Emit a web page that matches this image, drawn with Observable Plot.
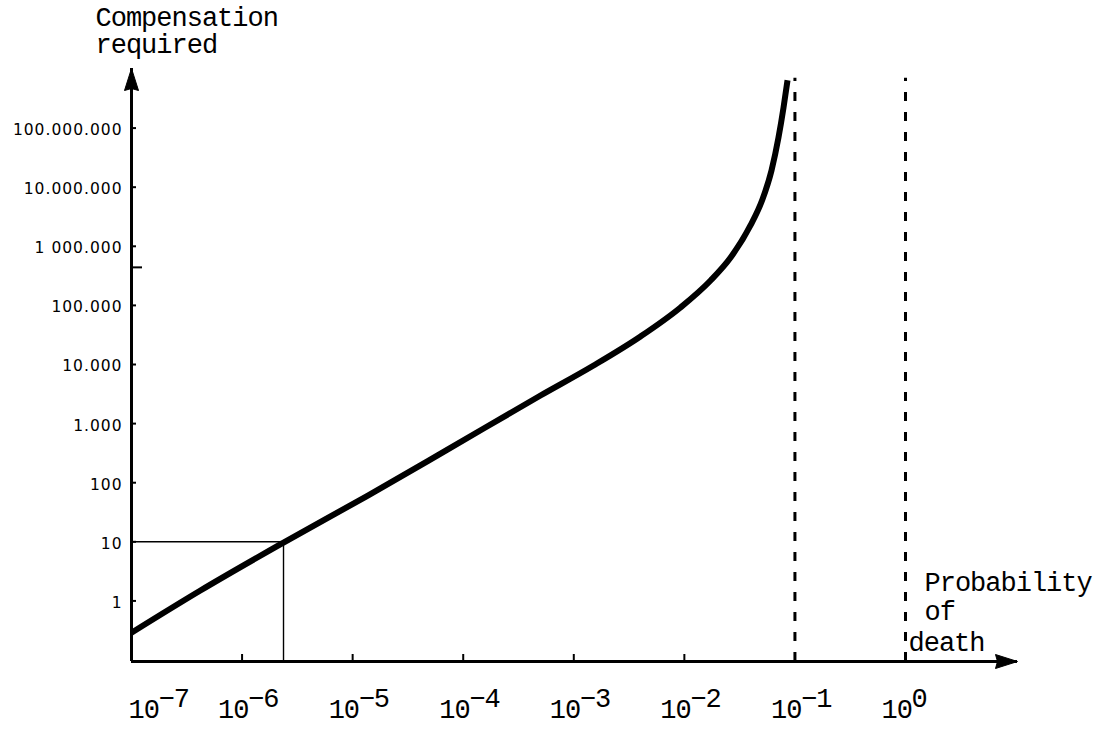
<!DOCTYPE html>
<html>
<head>
<meta charset="utf-8">
<script src="https://cdn.jsdelivr.net/npm/d3@7"></script>
<script src="https://cdn.jsdelivr.net/npm/@observablehq/plot@0.6"></script>
<style>
  html, body { margin: 0; padding: 0; background: #fff; }
  g[font-family*="Mono"] { letter-spacing: -1px; }
  g[font-family^="DejaVu Sans,"] { letter-spacing: 1px; }
</style>
</head>
<body>
<div id="chart"></div>
<script>
// ---- data ----
const xTickValues = [1e-7, 1e-6, 1e-5, 1e-4, 1e-3, 1e-2, 1e-1, 1];
const xTickBase = ["10", "10", "10", "10", "10", "10", "10", "10"];
const xTickExponents = ["−7", "−6", "−5", "−4", "−3", "−2", "−1", "0"];
const yTickValues = [1, 10, 100, 1e3, 1e4, 1e5, 1e6, 1e7, 1e8];
const yTickLabels = ["1", "10", "100", "1.000", "10.000", "100.000", "1 000.000", "10.000.000", "100.000.000"];
const extraYTick = [4.4e5];
// compensation curve
const probability = [1e-7, 4.2e-7, 2.37e-6, 1.36e-5, 7.2e-5, 5.0e-4, 1.51e-3, 4.01e-3, 9.23e-3, 0.01726, 0.0262, 0.0396, 0.0508, 0.0614, 0.0710, 0.0789, 0.0857];
const compensation = [0.29, 1.5, 9.7, 60, 363, 2990, 9620, 2.98e4, 9.23e4, 2.64e5, 6.46e5, 2.25e6, 6.19e6, 1.92e7, 6.92e7, 2.24e8, 6.46e8];
// reference guide (compensation 10)
const refProbability = [2.37e-6];
const refCompensation = [10];
// asymptotes (dashed)
const asymptotes = [0.1, 1];
const asymptoteTop = 7e8;

// scale extents
const xDomain = [1e-7, 10.3];
const yDomain = [0.0944, 1.019e9];

const curveData = probability.map((p, i) => ({p, c: compensation[i]}));
const xTicks = xTickValues.map((v, i) => ({v, base: xTickBase[i], exp: xTickExponents[i]}));
const yTicks = yTickValues.map((v, i) => ({v, label: yTickLabels[i]}));

const mono = "Liberation Mono, Courier New, monospace";
const sans = "DejaVu Sans, Verdana, sans-serif";

const arrowHead = {
  draw(ctx) {
    ctx.moveTo(0, 0);
    ctx.lineTo(7, 22);
    ctx.lineTo(0, 20);
    ctx.lineTo(-7, 22);
    ctx.closePath();
  }
};

const nubX = 1e-7 * Math.pow(10, 5 / 110.57);
const longNubX = 1e-7 * Math.pow(10, 11 / 110.57);
const nubY = yDomain[0] * Math.pow(10, 7 / 59.1);

const chart = Plot.plot({
  width: 1098,
  height: 729,
  marginLeft: 131,
  marginRight: 81,
  marginTop: 68,
  marginBottom: 68,
  style: {background: "#fff", color: "#000", overflow: "visible"},
  x: {type: "log", domain: xDomain, axis: null},
  y: {type: "log", domain: yDomain, axis: null},
  marks: [
    // thin reference guide
    Plot.ruleY(refCompensation, {y: d => d, x1: xDomain[0], x2: refProbability[0], stroke: "#000", strokeWidth: 1.4}),
    Plot.ruleX(refProbability, {x: d => d, y1: yDomain[0], y2: refCompensation[0], stroke: "#000", strokeWidth: 1.4}),
    // dashed asymptotes
    Plot.ruleX(asymptotes, {x: d => d, y1: yDomain[0], y2: asymptoteTop, stroke: "#000", strokeWidth: 3, strokeDasharray: "9,11"}),
    // axes
    Plot.ruleX([xDomain[0]], {stroke: "#000", strokeWidth: 3}),
    Plot.ruleY([yDomain[0]], {stroke: "#000", strokeWidth: 3}),
    Plot.dot([0], {x: xDomain[0], y: yDomain[1], symbol: arrowHead, fill: "#000", stroke: "#000", strokeWidth: 1, r: 5}),
    Plot.dot([0], {x: xDomain[1], y: yDomain[0], symbol: arrowHead, fill: "#000", stroke: "#000", strokeWidth: 1, r: 5, rotate: 90}),
    // axis nubs
    Plot.ruleY(yTickValues, {y: d => d, x1: xDomain[0], x2: nubX, stroke: "#000", strokeWidth: 2}),
    Plot.ruleY(extraYTick, {y: d => d, x1: xDomain[0], x2: longNubX, stroke: "#000", strokeWidth: 2}),
    Plot.ruleX(xTickValues.slice(1, 6), {x: d => d, y1: yDomain[0], y2: nubY, stroke: "#000", strokeWidth: 2}),
    // curve
    Plot.line(curveData, {x: "p", y: "c", curve: "monotone-x", stroke: "#000", strokeWidth: 6, strokeLinecap: "butt"}),
    // y labels
    Plot.text(yTicks, {x: xDomain[0], y: "v", text: "label", textAnchor: "end", dx: -9, dy: 2, fontFamily: sans, fontSize: 15.5, fill: "#000"}),
    // x labels
    Plot.text(xTicks.slice(0, 1), {x: "v", y: yDomain[0], text: "base", textAnchor: "start", lineAnchor: "bottom", dx: -3, dy: 56, fontFamily: mono, fontSize: 27, fill: "#000"}),
    Plot.text(xTicks.slice(0, 1), {x: "v", y: yDomain[0], text: "exp", textAnchor: "start", lineAnchor: "bottom", dx: 27, dy: 45, fontFamily: mono, fontSize: 27, fill: "#000"}),
    Plot.text(xTicks.slice(1), {x: "v", y: yDomain[0], text: "base", textAnchor: "start", lineAnchor: "bottom", dx: -24, dy: 56, fontFamily: mono, fontSize: 27, fill: "#000"}),
    Plot.text(xTicks.slice(1), {x: "v", y: yDomain[0], text: "exp", textAnchor: "start", lineAnchor: "bottom", dx: 6, dy: 45, fontFamily: mono, fontSize: 27, fill: "#000"}),
    // axis titles
    Plot.text(["Compensation\nrequired"], {frameAnchor: "top-left", textAnchor: "start", lineAnchor: "bottom", dx: -36, dy: -16, lineHeight: 1.0, fontFamily: mono, fontSize: 27, fill: "#000"}),
    Plot.text(["Probability\nof"], {frameAnchor: "top-left", textAnchor: "start", lineAnchor: "bottom", dx: 793, dy: 551, lineHeight: 1.07, fontFamily: mono, fontSize: 27, fill: "#000"}),
    Plot.text(["death"], {frameAnchor: "top-left", textAnchor: "start", lineAnchor: "bottom", dx: 777, dy: 582, fontFamily: mono, fontSize: 27, fill: "#000"})
  ]
});
document.getElementById("chart").appendChild(chart);
</script>
</body>
</html>
